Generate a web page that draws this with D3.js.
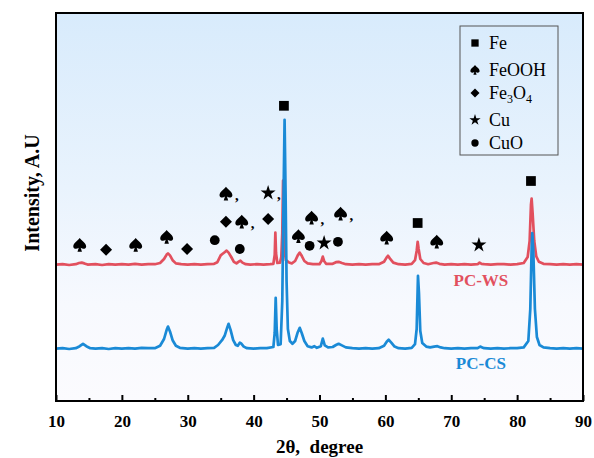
<!DOCTYPE html>
<html>
<head>
<meta charset="utf-8">
<script src="https://cdn.jsdelivr.net/npm/d3@7"></script>
</head>
<body style="margin:0">
<div id="xrd-chart"></div>
<script>
// XRD PATTERNS PC-WS / PC-CS

// PC-WS (red), [2theta, intensity incl. offset]
var pcWS = [
  [10,341],[11,342],[12,340],[13,342],[13.5,345],[13.9,346],[14.3,344],[14.8,341],[16,342],[17,340],
  [18,342],[19,341],[20,342],[21,341],[22,343],[23,341],[24,342],[25,342],[25.8,345],[26.4,355],
  [26.8,366],[27,369],[27.3,364],[27.7,352],[28.2,344],[29,342],[30,341],[31,342],[32,341],[33,342],
  [34,343],[34.5,347],[35,364],[35.3,368],[35.6,372],[35.9,376],[36.2,371],[36.6,360],[37,348],[37.4,344],
  [37.8,349],[38,351],[38.3,346],[38.8,342],[39.5,341],[40.5,342],[41.5,341],[42.5,342],[43,343],[43.2,365],
  [43.3,421],[43.4,370],[43.6,345],[44,346],[44.2,360],[44.35,420],[44.47,551],[44.6,430],[44.75,370],[44.9,352],
  [45.3,347],[45.8,344],[46.3,350],[46.7,364],[47,371],[47.3,363],[47.7,350],[48.2,344],[49,342],[50,342],
  [50.3,350],[50.5,361],[50.7,350],[51,343],[52,343],[52.5,347],[52.9,348],[53.4,345],[54,342],[55,341],
  [56,342],[57,341],[58,342],[59,342],[59.8,348],[60.2,359],[60.4,363],[60.7,356],[61.2,346],[62,342],
  [63,341],[64,343],[64.5,352],[64.75,375],[64.9,398],[65.05,380],[65.3,355],[65.8,345],[66.5,342],[67.3,345],
  [67.7,346],[68.2,343],[69,341],[70,342],[71,341],[72,342],[73,341],[74,342],[74.3,346],[74.6,343],
  [75,342],[76,341],[77,342],[78,342],[79,341],[80,342],[81,345],[81.6,360],[81.9,400],[82.1,490],
  [82.2,506],[82.35,470],[82.6,400],[82.9,362],[83.3,348],[84,343],[85,342],[86,341],[87,342],[88,341],
  [89,342],[90,341]
];

// PC-CS (blue)
var pcCS = [
  [10,131],[11,132],[12,130],[13,132],[13.6,137],[14.1,143],[14.6,137],[15.2,132],[16,131],[17,132],
  [18,130],[19,132],[20,131],[21,132],[22,131],[23,133],[24,132],[25,132],[25.8,138],[26.4,155],
  [26.8,178],[27,186],[27.3,174],[27.7,152],[28.2,138],[28.8,133],[30,131],[31,132],[32,131],[33,132],
  [34,133],[34.6,140],[35.2,152],[35.6,163],[36,184],[36.2,193],[36.5,178],[36.9,152],[37.3,140],[37.6,138],
  [37.9,146],[38.1,144],[38.5,136],[39,132],[40,131],[41,132],[42,132],[43,135],[43.2,170],[43.35,258],
  [43.5,180],[43.7,140],[44.1,142],[44.35,250],[44.55,520],[44.7,703],[44.85,520],[45,300],[45.2,180],[45.5,150],
  [45.9,143],[46.3,150],[46.7,172],[47,183],[47.3,170],[47.7,150],[48.2,137],[48.8,134],[49.2,137],[49.6,133],
  [50.2,137],[50.5,156],[50.8,139],[51.3,134],[52,135],[52.5,140],[52.9,143],[53.4,139],[54,134],[55,132],
  [56,131],[57,132],[58,131],[59,132],[59.8,138],[60.2,148],[60.5,153],[60.9,146],[61.4,136],[62,132],
  [63,131],[64,133],[64.5,142],[64.75,180],[64.95,313],[65.1,270],[65.3,175],[65.6,145],[66.2,136],[66.8,134],
  [67.4,136],[67.9,137],[68.4,134],[69,132],[70,131],[71,132],[72,131],[73,132],[74,132],[74.4,136],
  [74.7,134],[75,132],[76,131],[77,132],[78,131],[79,132],[80,132],[81,134],[81.7,150],[82,230],
  [82.2,380],[82.3,420],[82.45,380],[82.7,230],[83,160],[83.4,140],[84,134],[85,132],[86,131],[87,132],
  [88,131],[89,132],[90,131]
];

// phase markers: 2theta, height, phase, followed by comma
var markTheta = [13.6, 17.6, 22.1, 26.8, 29.9, 34.1, 35.8, 35.8, 38.2, 37.9, 42.2, 42.2, 44.6, 46.8, 48.8, 48.5, 50.7, 52.8, 53.2, 60.2, 64.9, 67.8, 74.2, 82.1];
var markLevel = [390, 378, 390, 410, 380, 402, 518, 448, 448, 380, 520, 455, 738, 412, 458, 388, 395, 398, 468, 408, 445, 398, 390, 550];
var markPhase = ["FeOOH","Fe3O4","FeOOH","FeOOH","Fe3O4","CuO","FeOOH","Fe3O4","FeOOH","CuO","Cu","Fe3O4","Fe","FeOOH","FeOOH","CuO","Cu","CuO","FeOOH","FeOOH","Fe","FeOOH","Cu","Fe"];
var markComma = [0,0,0,0,0,0,1,0,1,0,1,0,0,0,1,0,0,0,1,0,0,0,0,0];

var phases = ["Fe", "FeOOH", "Fe3O4", "Cu", "CuO"];
var xTicks = [10, 20, 30, 40, 50, 60, 70, 80, 90];

var SERIF = "Liberation Serif";

// spade outline in a unit box, centred on 0,0
var spadePath = "M0,-0.5 C0.14,-0.3 0.46,-0.14 0.46,0.1 C0.46,0.27 0.24,0.33 0.07,0.2 L0.16,0.48 L-0.16,0.48 L-0.07,0.2 C-0.24,0.33 -0.46,0.27 -0.46,0.1 C-0.46,-0.14 -0.14,-0.3 0,-0.5 Z";

function xrdchart() {
    var margin = { top: 13, right: 11, bottom: 57, left: 56 },
        width = 594 - margin.left - margin.right,
        height = 458 - margin.top - margin.bottom;

    var root = d3.select("#xrd-chart").append("svg")
        .attr("width", width + margin.left + margin.right)
        .attr("height", height + margin.top + margin.bottom)
        .attr("font-family", SERIF)
        .style("display", "block");

    var defs = root.append("defs");
    var grad = defs.append("linearGradient")
        .attr("id", "bg").attr("x1", 0).attr("y1", 0).attr("x2", 0).attr("y2", 1);
    grad.append("stop").attr("offset", "0%").attr("stop-color", "#d8ebfc");
    grad.append("stop").attr("offset", "45%").attr("stop-color", "#e9f3fd");
    grad.append("stop").attr("offset", "75%").attr("stop-color", "#f7f9fe");
    grad.append("stop").attr("offset", "100%").attr("stop-color", "#fbfbfe");
    defs.append("clipPath").attr("id", "clip")
        .append("rect").attr("width", width).attr("height", height);

    var svg = root.append("g")
        .attr("transform", "translate(" + margin.left + "," + margin.top + ")");

    var x = d3.scaleLinear().domain([10, 90]).range([0, width]);
    var y = d3.scaleLinear().domain([0, 970]).range([height, 0]);

    svg.append("rect")
        .attr("width", width).attr("height", height)
        .attr("fill", "url(#bg)");

    var line = d3.line()
        .x(function(d) { return x(d[0]); })
        .y(function(d) { return y(d[1]); });

    var plot = svg.append("g").attr("clip-path", "url(#clip)");
    plot.append("path").datum(pcWS)
        .attr("d", line).attr("fill", "none")
        .attr("stroke", "#e2505e").attr("stroke-width", 2.7).attr("stroke-linejoin", "round");
    plot.append("path").datum(pcCS)
        .attr("d", line).attr("fill", "none")
        .attr("stroke", "#1a8ad6").attr("stroke-width", 2.7).attr("stroke-linejoin", "round");

    // symbol drawing
    function drawMark(g, phase, cx, cy, big) {
        var k = big ? 1 : 0.75;
        if (phase == "FeOOH") {
            var s = big ? 14 : 10;
            g.append("path")
                .attr("d", spadePath)
                .attr("transform", "translate(" + cx + "," + cy + ") scale(" + s + ")")
                .attr("fill", "#000");
            return;
        }
        var type = { Fe: d3.symbolSquare, Fe3O4: d3.symbolSquare, Cu: d3.symbolStar, CuO: d3.symbolCircle }[phase];
        var size = { Fe: 95, Fe3O4: 72, Cu: 70, CuO: 75 }[phase] * k * k;
        g.append("path")
            .attr("d", d3.symbol().type(type).size(size))
            .attr("transform", "translate(" + cx + "," + cy + ")" + (phase == "Fe3O4" ? " rotate(45)" : ""))
            .attr("fill", "#000");
    }

    var marks = svg.append("g");
    markTheta.forEach(function(t, i) {
        var cx = x(t), cy = y(markLevel[i]);
        drawMark(marks, markPhase[i], cx, cy, true);
        if (markComma[i]) {
            marks.append("text")
                .attr("x", cx + 9).attr("y", cy + 6)
                .attr("font-family", SERIF)
                .attr("font-size", 15).attr("font-weight", "bold")
                .text(",");
        }
    });

    // series labels
    svg.append("text")
        .attr("x", x(74.5)).attr("y", y(288))
        .attr("text-anchor", "middle")
        .attr("font-family", SERIF)
        .attr("font-size", 17).attr("font-weight", "bold")
        .attr("fill", "#e2505e")
        .text("PC-WS");
    svg.append("text")
        .attr("x", x(74.5)).attr("y", y(80))
        .attr("text-anchor", "middle")
        .attr("font-family", SERIF)
        .attr("font-size", 17).attr("font-weight", "bold")
        .attr("fill", "#1a8ad6")
        .text("PC-CS");

    // legend
    var legend = svg.append("g").attr("transform", "translate(" + (width - 123) + ",13)");
    legend.append("rect")
        .attr("width", 98).attr("height", 129)
        .attr("fill", "none").attr("stroke", "#555").attr("stroke-width", 1);
    var rowY = [17, 44, 67, 94, 117];
    phases.forEach(function(p, i) {
        drawMark(legend, p, 15, rowY[i], false);
        var t = legend.append("text")
            .attr("x", 29).attr("y", rowY[i] + 6)
            .attr("font-family", SERIF)
            .attr("font-size", 18);
        if (p == "Fe3O4") {
            t.append("tspan").text("Fe");
            t.append("tspan").attr("dy", 4).attr("font-size", 12).text("3");
            t.append("tspan").attr("dy", -4).text("O");
            t.append("tspan").attr("dy", 4).attr("font-size", 12).text("4");
        } else {
            t.text(p);
        }
    });

    // x axis, ticks inward
    var xAxis = d3.axisBottom(x).tickValues(xTicks).tickSize(-6).tickPadding(14).tickFormat(d3.format("d"));
    var minor = d3.axisBottom(x).tickValues(xTicks.slice(1).map(function(d) { return d - 5; })).tickSize(-3).tickFormat("");

    svg.append("g")
        .attr("transform", "translate(0," + height + ")")
        .call(minor)
        .call(function(g) { g.select(".domain").remove(); })
        .selectAll("line").attr("stroke-width", 2);

    var gx = svg.append("g")
        .attr("transform", "translate(0," + height + ")")
        .call(xAxis)
        .attr("font-family", SERIF)
        .attr("font-size", 17);
    gx.select(".domain").remove();
    gx.selectAll("line").attr("stroke-width", 2);
    gx.selectAll("text")
        .attr("font-family", SERIF)
        .attr("font-weight", "bold").attr("fill", "#000");

    // frame
    svg.append("rect")
        .attr("width", width).attr("height", height)
        .attr("fill", "none").attr("stroke", "#000").attr("stroke-width", 2);

    svg.append("text")
        .attr("text-anchor", "middle")
        .attr("x", width / 2)
        .attr("y", height + 52)
        .attr("font-family", SERIF)
        .attr("font-size", 19).attr("font-weight", "bold")
        .text("2\u03b8,\u00a0 degree");

    svg.append("text")
        .attr("text-anchor", "middle")
        .attr("transform", "translate(-24," + (height / 2 - 14) + ") rotate(-90)")
        .attr("dominant-baseline", "central")
        .attr("font-family", SERIF)
        .attr("font-size", 20).attr("font-weight", "bold")
        .text("Intensity, A.U");
}
xrdchart();
</script>
</body>
</html>
